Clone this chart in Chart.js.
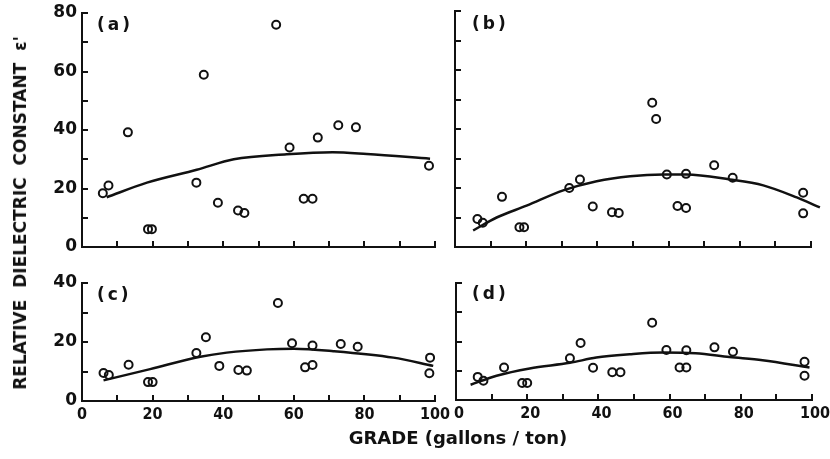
<!DOCTYPE html>
<html>
<head>
<meta charset="utf-8">
<script src="https://cdn.jsdelivr.net/npm/chart.js@4"></script>
<style>
  html, body { margin:0; padding:0; background:#fff; }
  body { width:830px; height:459px; position:relative; overflow:hidden; font-family:"DejaVu Sans", sans-serif; }
  .pane { position:absolute; }
  .lbl { position:absolute; font-weight:bold; color:#111; white-space:nowrap; }
  .plab { font-size:17px; letter-spacing:3px; line-height:1; }
</style>
</head>
<body>
<div class="lbl plab" style="left:97px;top:16px">(a)</div>
<div class="lbl plab" style="left:472px;top:15px">(b)</div>
<div class="lbl plab" style="left:97px;top:286px">(c)</div>
<div class="lbl plab" style="left:472px;top:285px">(d)</div>

<div class="lbl" style="left:20px;top:213px;font-size:17px;word-spacing:6px;transform:translate(-50%,-50%) rotate(-90deg);">RELATIVE DIELECTRIC CONSTANT ε'</div>
<div class="lbl" style="left:458px;top:437px;font-size:18px;transform:translate(-50%,-50%);">GRADE (gallons / ton)</div>

<script>
// ---- data ----
// x tick labels (grade) and y tick labels
const xTickLabels = [0, 20, 40, 60, 80, 100];
const yTickLabelsTop = [0, 20, 40, 60, 80];
const yTickLabelsBottom = [0, 20, 40];

// (a)
const aGrade = [5.9, 7.5, 13, 18.7, 19.8, 32.4, 34.5, 38.5, 44.2, 46, 55, 58.8, 62.8, 65.3, 66.8, 72.6, 77.6, 98.3];
const aEps   = [18.4, 21, 39.2, 6.1, 6.1, 22, 58.9, 15.1, 12.5, 11.6, 76, 34, 16.5, 16.5, 37.4, 41.6, 40.9, 27.8];
const aFitGrade = [7, 18.4, 32.5, 43, 58, 71, 80.7, 98.6];
const aFitEps   = [17, 22, 26.4, 30, 31.7, 32.4, 31.8, 30.2];

// (b)
const bGrade = [6.3, 7.8, 13.2, 18.1, 19.4, 32.1, 35.1, 38.7, 44.1, 46, 55.4, 56.5, 59.5, 62.5, 64.9, 64.9, 72.8, 78, 97.8, 97.8];
const bEps   = [9.5, 8.2, 17, 6.7, 6.7, 20, 22.9, 13.7, 11.8, 11.5, 48.9, 43.4, 24.6, 13.9, 13.2, 24.8, 27.7, 23.5, 18.4, 11.4];
const bFitGrade = [5.1, 11.7, 20.1, 30.4, 39.8, 49.2, 58.5, 65, 77.2, 86.6, 96, 102.5];
const bFitEps   = [5.6, 10, 14, 19.2, 22.3, 24, 24.6, 24.6, 22.9, 20.9, 16.8, 13.4];

// (c)
const cGrade = [6.1, 7.6, 13.2, 18.7, 20, 32.4, 35.1, 38.9, 44.3, 46.7, 55.5, 59.5, 63.2, 65.3, 65.3, 73.3, 78.1, 98.6, 98.4];
const cEps   = [9.5, 8.8, 12.3, 6.4, 6.4, 16.3, 21.6, 11.9, 10.5, 10.3, 33.2, 19.6, 11.4, 12.2, 18.8, 19.3, 18.4, 14.7, 9.4];
const cFitGrade = [6.1, 19.3, 33.5, 41, 52.4, 60, 71.2, 88.2, 99.5];
const cFitEps   = [7, 10.8, 15, 16.4, 17.5, 17.7, 16.9, 14.7, 11.9];

// (d)
const dGrade = [6.1, 7.7, 13.5, 18.6, 20, 32, 35, 38.5, 43.9, 46.2, 55.1, 59.1, 62.8, 64.7, 64.7, 72.6, 77.8, 97.9, 97.9];
const dEps   = [7.9, 6.6, 11.1, 5.8, 5.8, 14.3, 19.5, 11, 9.5, 9.5, 26.4, 17.1, 11.1, 11.1, 17, 18, 16.5, 13.1, 8.3];
const dFitGrade = [4.1, 11.4, 20.7, 32, 39.4, 48.8, 58.1, 67.3, 76.8, 86.1, 99.3];
const dFitEps   = [5.2, 8.3, 10.8, 12.7, 14.5, 15.6, 16.2, 16, 14.7, 13.6, 11.1];

// ---- chart construction ----
Chart.defaults.font.family = '"DejaVu Sans", sans-serif';
Chart.defaults.font.weight = 'bold';
Chart.defaults.font.size = 17;
Chart.defaults.color = '#111';

const INK = '#111';
const M_TOP = 26, M_BOTTOM = 30, M_RIGHT = 32;
const zip = (xs, ys) => xs.map((x, i) => ({x: x, y: ys[i]}));

function panel(pts, fit, cfg) {
  // cfg.area = [left, top, right, bottom] of the plot area in page pixels
  const [L, T, R, B] = cfg.area;
  const yW = cfg.yW;
  const w = R - L + yW + M_RIGHT, h = B - T + M_TOP + M_BOTTOM;
  const div = document.createElement('div');
  div.className = 'pane';
  div.style.left = (L - yW) + 'px';
  div.style.top = (T - M_TOP) + 'px';
  div.style.width = w + 'px';
  div.style.height = h + 'px';
  const cv = document.createElement('canvas');
  cv.width = w; cv.height = h;
  div.appendChild(cv);
  document.body.insertBefore(div, document.body.firstChild);

  const gridOpts = { drawOnChartArea:false, drawTicks:true, tickLength:-6, color:INK, lineWidth:2 };
  const borderOpts = { display:true, color:INK, width:2 };
  return new Chart(cv, {
    type: 'scatter',
    data: {
      datasets: [
        {
          data: pts,
          pointStyle: 'circle',
          pointRadius: 4,
          pointHoverRadius: 4,
          pointBorderWidth: 2,
          borderColor: INK,
          backgroundColor: 'rgba(0,0,0,0)',
          showLine: false
        },
        {
          data: fit,
          showLine: true,
          pointRadius: 0,
          borderColor: INK,
          borderWidth: 2.5,
          tension: 0.4,
          cubicInterpolationMode: 'monotone',
          fill: false,
          clip: false
        }
      ]
    },
    options: {
      responsive: false,
      animation: false,
      devicePixelRatio: 1,
      layout: { padding: { left:0, right:M_RIGHT, top:M_TOP, bottom:0 } },
      plugins: { legend: { display:false }, tooltip: { enabled:false }, title: { display:false } },
      events: [],
      scales: {
        x: {
          type: 'linear', min: 0, max: 100,
          grid: gridOpts, border: borderOpts,
          ticks: {
            stepSize: 10, padding: 10, maxRotation: 0, autoSkip: false,
            labelOffset: cfg.xOff || 0,
            font: { family: '"DejaVu Sans Condensed", "DejaVu Sans", sans-serif', size: 16, weight: 'bold' },
            callback: v => (cfg.xLabels && xTickLabels.includes(v)) ? String(v) : ''
          },
          afterFit: s => { s.height = M_BOTTOM; }
        },
        y: {
          type: 'linear', min: 0, max: cfg.yMax,
          grid: gridOpts, border: borderOpts,
          ticks: {
            stepSize: 10, padding: 11, autoSkip: false,
            callback: v => (cfg.yLabels && cfg.yLabels.includes(v)) ? String(v) : ''
          },
          afterFit: s => { s.width = yW; }
        }
      }
    }
  });
}

panel(zip(aGrade, aEps), zip(aFitGrade, aFitEps),
  { area:[82, 13, 435, 247], yMax:80, xLabels:false, yLabels:yTickLabelsTop, yW:82 });
panel(zip(bGrade, bEps), zip(bFitGrade, bFitEps),
  { area:[455, 11, 811, 247], yMax:80, xLabels:false, yLabels:null, yW:20 });
panel(zip(cGrade, cEps), zip(cFitGrade, cFitEps),
  { area:[82, 283, 435, 401], yMax:40, xLabels:true, yLabels:yTickLabelsBottom, yW:82, xOff:0 });
panel(zip(dGrade, dEps), zip(dFitGrade, dFitEps),
  { area:[456, 283, 812, 400], yMax:40, xLabels:true, yLabels:null, yW:20, xOff:3 });
</script>
</body>
</html>
